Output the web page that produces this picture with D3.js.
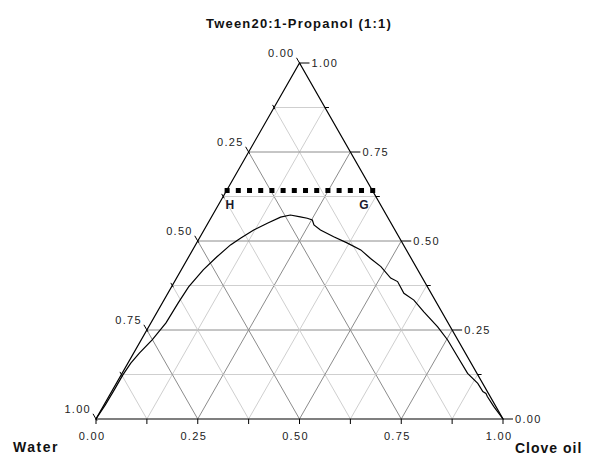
<!DOCTYPE html>
<html><head><meta charset="utf-8">
<script src="https://cdn.jsdelivr.net/npm/d3@7"></script>
<style>body{margin:0;background:#fff}svg{display:block}</style>
</head><body>
<script>
// ---------- data ----------
const title = "Tween20:1-Propanol (1:1)";
const cornerLabels = ["Water", "Clove oil"];
const tickValues = [0, 0.25, 0.5, 0.75, 1];
const tickLabels = ["0.00", "0.25", "0.50", "0.75", "1.00"];
const gridSteps = [0.125, 0.25, 0.375, 0.5, 0.625, 0.75, 0.875];
// phase boundary: clove oil fraction and surfactant (Tween20:1-Propanol) fraction; water = 1 - oil - surf
const boundaryOil  = [0, 0.003, 0.004, 0.004, 0.007, 0.014, 0.027, 0.037, 0.039, 0.042, 0.054, 0.069, 0.086, 0.101, 0.122, 0.146, 0.170, 0.191, 0.218, 0.237, 0.252, 0.263, 0.286, 0.328, 0.371, 0.413, 0.449, 0.486, 0.526, 0.548, 0.580, 0.614, 0.655, 0.710, 0.753, 0.801, 0.849, 0.888, 0.912, 0.922, 0.930, 0.960, 1];
const boundarySurf = [0, 0.039, 0.081, 0.124, 0.157, 0.185, 0.222, 0.270, 0.326, 0.371, 0.419, 0.455, 0.489, 0.508, 0.531, 0.550, 0.567, 0.573, 0.568, 0.564, 0.559, 0.545, 0.531, 0.512, 0.494, 0.475, 0.451, 0.428, 0.396, 0.386, 0.353, 0.334, 0.301, 0.259, 0.222, 0.175, 0.128, 0.100, 0.077, 0.072, 0.063, 0.035, 0];
// dotted H-G line
const hgLabels = ["H", "G"];
const hgOil  = [-0.005, 0.365];
const hgSurf = [0.642, 0.642];

// ---------- scales ----------
const W = 595, H = 457;
const X = d3.scaleLinear().domain([0, 1]).range([96, 503]);
const Y = d3.scaleLinear().domain([0, 1]).range([419, 63]);
const px = (oil, surf) => X(oil + surf / 2);
const py = (oil, surf) => Y(surf);

const svg = d3.select("body").append("svg").attr("width", W).attr("height", H);
const font = "'Liberation Sans', Arial, sans-serif";

// ---------- grid ----------
const g = svg.append("g");
gridSteps.forEach((v, i) => {
  const major = (i % 2 === 1);
  const col = major ? "#8c8c8c" : "#cfcfcf";
  const segs = [
    [[0, v], [1 - v, v]],          // constant surfactant
    [[v, 0], [v, 1 - v]],          // constant oil
    [[1 - v, 0], [0, 1 - v]]       // constant water
  ];
  segs.forEach(s => {
    g.append("line")
      .attr("x1", px(s[0][0], s[0][1])).attr("y1", py(s[0][0], s[0][1]))
      .attr("x2", px(s[1][0], s[1][1])).attr("y2", py(s[1][0], s[1][1]))
      .attr("stroke", col).attr("stroke-width", 1);
  });
});

// ---------- triangle ----------
const tri = [[0, 0], [1, 0], [0, 1]];
svg.append("path")
  .attr("d", d3.line()(tri.map(d => [px(d[0], d[1]), py(d[0], d[1])])) + "Z")
  .attr("fill", "none").attr("stroke", "#000").attr("stroke-width", 1.2);

// ---------- ticks ----------
const allTicks = [0].concat(gridSteps, [1]);
const tk = svg.append("g").attr("stroke", "#000").attr("stroke-width", 1);
allTicks.forEach(v => {
  const major = tickValues.some(t => Math.abs(t - v) < 1e-6);
  // bottom (oil)
  tk.append("line").attr("x1", X(v)).attr("x2", X(v)).attr("y1", Y(0)).attr("y2", Y(0) + 5);
  // right (surfactant)
  const rx = px(1 - v, v), ry = py(1 - v, v);
  tk.append("line").attr("x1", rx).attr("x2", rx + (major ? 10 : 4)).attr("y1", ry).attr("y2", ry);
  // left (water)
  const lx = px(0, v), ly = py(0, v);
  const L = major ? 6 : 3;
  tk.append("line").attr("x1", lx + 0.5 * 2).attr("y1", ly + 0.866 * 2)
    .attr("x2", lx - 0.5 * L).attr("y2", ly - 0.866 * L);
});

// ---------- tick labels ----------
const lbl = svg.append("g").attr("font-family", font).attr("font-size", 11)
  .attr("fill", "#222").attr("letter-spacing", 1.3);
tickValues.forEach((v, i) => {
  // bottom: clove oil
  lbl.append("text").attr("x", X(v) - 4).attr("y", 440).attr("text-anchor", "middle").text(tickLabels[i]);
  // right: surfactant
  lbl.append("text").attr("x", px(1 - v, v) + 12).attr("y", py(1 - v, v) + 4).attr("text-anchor", "start").text(tickLabels[i]);
  // left: water = 1 - surf
  lbl.append("text").attr("x", px(0, v) - 5).attr("y", py(0, v) - 6).attr("text-anchor", "end").text(tickLabels[4 - i]);
});

// ---------- phase boundary ----------
const boundary = boundaryOil.map((o, i) => ({ oil: o, surf: boundarySurf[i] }));
svg.append("path")
  .attr("d", d3.line().x(d => px(d.oil, d.surf)).y(d => py(d.oil, d.surf))(boundary))
  .attr("fill", "none").attr("stroke", "#000").attr("stroke-width", 1.2);

// ---------- H-G dotted line ----------
svg.append("line")
  .attr("x1", px(hgOil[0], hgSurf[0])).attr("y1", py(hgOil[0], hgSurf[0]))
  .attr("x2", px(hgOil[1], hgSurf[1])).attr("y2", py(hgOil[1], hgSurf[1]))
  .attr("stroke", "#000").attr("stroke-width", 5).attr("stroke-dasharray", "5,6.2");
svg.append("text").attr("x", px(hgOil[0], hgSurf[0]) + 1).attr("y", py(hgOil[0], hgSurf[0]) + 19)
  .attr("font-family", font).attr("font-size", 12).attr("font-weight", "bold").attr("fill", "#1a1a2e")
  .text(hgLabels[0]);
svg.append("text").attr("x", px(hgOil[1], hgSurf[1]) - 16).attr("y", py(hgOil[1], hgSurf[1]) + 19)
  .attr("font-family", font).attr("font-size", 12).attr("font-weight", "bold").attr("fill", "#1a1a2e")
  .text(hgLabels[1]);

// ---------- title and corner labels ----------
svg.append("text").attr("x", 299).attr("y", 28).attr("text-anchor", "middle")
  .attr("font-family", font).attr("font-size", 13).attr("font-weight", "bold")
  .attr("letter-spacing", 1.2).attr("fill", "#111").text(title);
svg.append("text").attr("x", 13).attr("y", 452)
  .attr("font-family", font).attr("font-size", 14).attr("font-weight", "bold")
  .attr("letter-spacing", 1.5).attr("fill", "#111").text(cornerLabels[0]);
svg.append("text").attr("x", 515).attr("y", 453)
  .attr("font-family", font).attr("font-size", 14).attr("font-weight", "bold")
  .attr("letter-spacing", 1.0).attr("fill", "#111").text(cornerLabels[1]);
</script>
</body></html>
